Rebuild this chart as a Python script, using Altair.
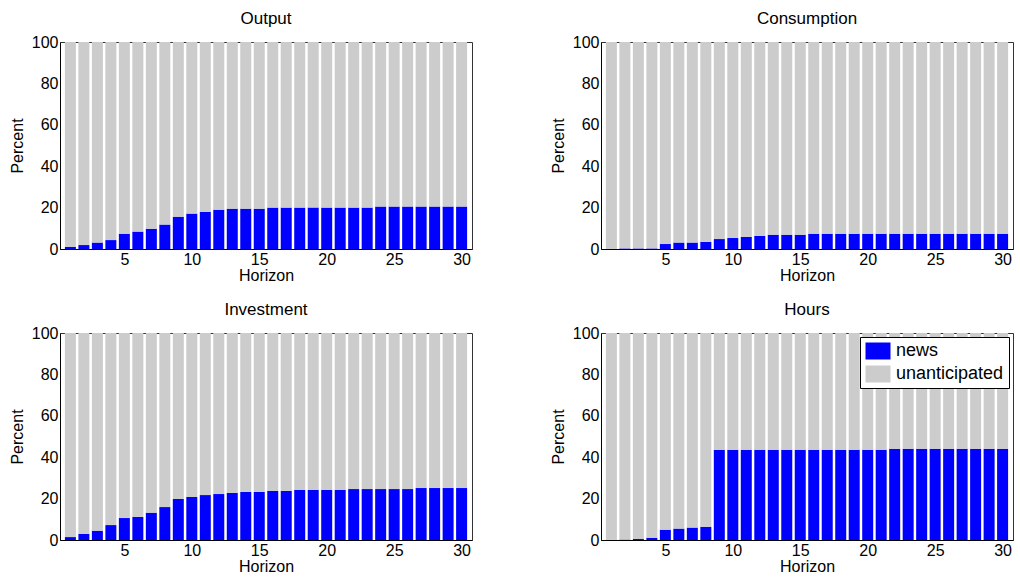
import altair as alt
import pandas as pd

horizon = list(range(1, 31))
components = ["news", "unanticipated"]
colors = ["#0000ff", "#cccccc"]

output_news = [1.0, 1.9, 3.1, 4.3, 7.4, 8.4, 9.8, 11.8, 15.6, 17.1,
               18.0, 19.0, 19.5, 19.5, 19.5, 20.0, 20.0, 20.0, 20.0, 20.0,
               20.0, 20.0, 20.0, 20.5, 20.5, 20.5, 20.5, 20.5, 20.5, 20.5]
consumption_news = [0.0, 0.3, 0.3, 0.3, 2.4, 3.1, 3.1, 3.5, 4.8, 5.3,
                    5.8, 6.3, 6.9, 6.9, 6.9, 7.4, 7.4, 7.4, 7.4, 7.4,
                    7.4, 7.4, 7.4, 7.4, 7.4, 7.4, 7.4, 7.4, 7.4, 7.4]
investment_news = [1.4, 2.9, 4.5, 7.2, 10.6, 11.1, 13.2, 15.9, 19.8, 20.8,
                   21.7, 22.2, 22.7, 23.2, 23.2, 23.7, 23.7, 24.2, 24.2, 24.2,
                   24.2, 24.6, 24.6, 24.6, 24.6, 24.6, 25.1, 25.1, 25.1, 25.1]
hours_news = [0.1, 0.2, 0.6, 1.1, 5.0, 5.5, 6.0, 6.4, 43.6, 43.6,
              43.6, 43.6, 43.6, 43.6, 43.6, 43.6, 43.6, 43.6, 43.6, 43.6,
              43.6, 44.1, 44.1, 44.1, 44.1, 44.1, 44.1, 44.1, 44.1, 44.1]

x_ticks = [5, 10, 15, 20, 25, 30]
y_ticks = [0, 20, 40, 60, 80, 100]

W, H = 412, 207


def panel(name, news, show_legend=False):
    rows = []
    for h, v in zip(horizon, news):
        rows.append({"Horizon": h, "component": "news", "lo": 0.0, "hi": v, "ord": 0})
        rows.append({"Horizon": h, "component": "unanticipated", "lo": v, "hi": 100.0, "ord": 1})
    df = pd.DataFrame(rows)
    if show_legend:
        legend = alt.Legend(
            title=None, orient="top-right", offset=4,
            strokeColor="black", fillColor="white", padding=5,
            labelFontSize=18, labelFont="Liberation Sans", labelColor="black",
            symbolType="M-1.47,-1H1.47V1H-1.47Z", symbolSize=289,
            symbolOffset=4, symbolStrokeWidth=0, symbolOpacity=1,
            rowPadding=5, labelOffset=9,
        )
    else:
        legend = None
    return alt.Chart(df).mark_bar(width=11, opacity=1).encode(
        x=alt.X("Horizon:Q",
                scale=alt.Scale(domain=[0.6, 30.4], nice=False, zero=False),
                axis=alt.Axis(values=x_ticks, title="Horizon", grid=False)),
        y=alt.Y("lo:Q", scale=alt.Scale(domain=[0, 100], nice=False),
                axis=alt.Axis(values=y_ticks, title="Percent", grid=False)),
        y2="hi:Q",
        color=alt.Color("component:N",
                        scale=alt.Scale(domain=components, range=colors),
                        legend=legend),
        order=alt.Order("ord:Q"),
    ).properties(width=W, height=H, title=name)


top = alt.hconcat(panel("Output", output_news),
                  panel("Consumption", consumption_news),
                  spacing=76).resolve_legend(color="independent")
bottom = alt.hconcat(panel("Investment", investment_news),
                     panel("Hours", hours_news, show_legend=True),
                     spacing=76).resolve_legend(color="independent")

chart = alt.vconcat(top, bottom, spacing=16).resolve_legend(
    color="independent"
).properties(
    padding={"left": 8, "top": 9, "right": 0, "bottom": 0},
    background="white",
).configure(
    font="Liberation Sans",
).configure_view(
    stroke="#333333", strokeWidth=1,
).configure_axis(
    labelFontSize=16, titleFontSize=16, titleFontWeight="normal",
    labelColor="black", titleColor="black",
    domainColor="black", ticks=False, labelPadding=2,
    labelFont="Liberation Sans", titleFont="Liberation Sans",
).configure_axisX(
    titlePadding=0,
).configure_axisY(
    titlePadding=6,
).configure_title(
    fontSize=17, fontWeight="normal", color="black", offset=6,
    font="Liberation Sans",
)

chart.save("out.html", embed_options={"renderer": "svg", "actions": False})
